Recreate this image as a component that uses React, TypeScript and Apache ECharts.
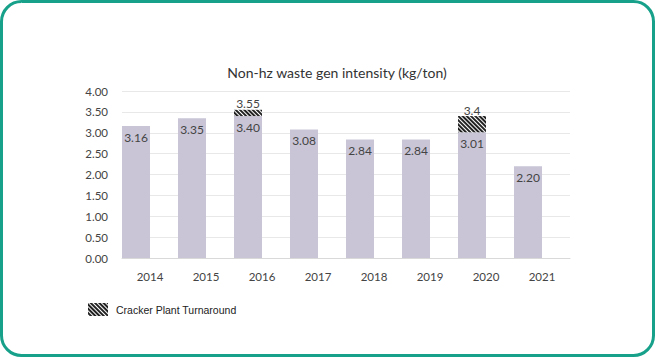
import React, { useEffect, useRef } from "react";
import * as echarts from "echarts";

const years = ["2014", "2015", "2016", "2017", "2018", "2019", "2020", "2021"];
const baseValues = [3.16, 3.35, 3.4, 3.08, 2.84, 2.84, 3.01, 2.2];
const turnaroundValues: (number | string)[] = ["-", "-", 0.15, "-", "-", "-", 0.39, "-"];
const turnaroundLabels = ["", "", "3.55", "", "", "", "3.4", ""];
const yTicks = [0, 0.5, 1, 1.5, 2, 2.5, 3, 3.5, 4];
const title = "Non-hz waste gen intensity (kg/ton)";
const legendName = "Cracker Plant Turnaround";

const FONT = "Lato";

export default function App() {
  const ref = useRef<HTMLDivElement>(null);
  useEffect(() => {
    if (!ref.current) return;
    const chart = echarts.init(ref.current, undefined, { renderer: "svg" });
    const hatch = {
      symbol: "rect",
      symbolSize: 1,
      color: "#222",
      backgroundColor: "#fff",
      dashArrayX: [1, 0],
      dashArrayY: [1.4, 1],
      rotation: Math.PI / 4,
    };
    chart.setOption({
      animation: false,
      backgroundColor: "#fff",
      title: {
        text: title,
        left: 332,
        top: 60,
        textAlign: "center",
        textStyle: { fontFamily: FONT, fontSize: 14, fontWeight: "normal", color: "#333" },
      },
      legend: {
        data: [legendName],
        left: 83,
        top: 298,
        icon: "rect",
        itemWidth: 20,
        itemHeight: 13,
        itemGap: 6,
        textStyle: { fontFamily: "Liberation Sans", fontSize: 10.5, color: "#222", padding: [0, 0, 0, 3] },
      },
      grid: { left: 122, right: 85, top: 91, bottom: 99 },
      xAxis: {
        type: "category",
        data: years,
        axisLine: { lineStyle: { color: "#d9d9d9" } },
        axisTick: { show: false },
        axisLabel: { fontFamily: FONT, fontSize: 11.5, color: "#444", margin: 12 },
      },
      yAxis: {
        type: "value",
        min: 0,
        max: 4,
        interval: 0.5,
        axisLine: { show: false },
        axisTick: { show: false },
        splitLine: { lineStyle: { color: "#e8e8e8" } },
        axisLabel: {
          fontFamily: FONT,
          fontSize: 11.5,
          color: "#444",
          margin: 14,
          formatter: (v: number) => (yTicks.includes(v) ? v.toFixed(2) : ""),
        },
      },
      series: [
        {
          name: "Base",
          type: "bar",
          stack: "a",
          data: baseValues,
          barGap: "0%",
          barCategoryGap: "0%",
          itemStyle: { color: "#c9c5d7" },
          label: {
            show: true,
            position: "insideTop",
            distance: 5,
            fontFamily: FONT,
            fontSize: 12,
            color: "#444",
            formatter: (p: any) => Number(p.value).toFixed(2),
          },
        },
        {
          name: legendName,
          type: "bar",
          stack: "a",
          data: turnaroundValues,
          itemStyle: { color: "#fff", decal: hatch },
          label: {
            show: true,
            position: "top",
            distance: 0,
            fontFamily: FONT,
            fontSize: 12,
            color: "#444",
            formatter: (p: any) => turnaroundLabels[p.dataIndex],
          },
        },
        {
          name: "Spacer",
          type: "bar",
          stack: "b",
          data: years.map(() => "-"),
          itemStyle: { color: "transparent" },
        },
      ],
      graphic: [
        {
          type: "rect",
          shape: { x: 1.5, y: 1.5, width: 652, height: 354, r: 20 },
          style: { fill: "none", stroke: "#17a08a", lineWidth: 3 },
          silent: true,
        },
      ],
    });
    return () => chart.dispose();
  }, []);
  return (
    <div
      ref={ref}
      style={{ position: "fixed", left: 0, top: 0, width: 655, height: 357 }}
    />
  );
}
